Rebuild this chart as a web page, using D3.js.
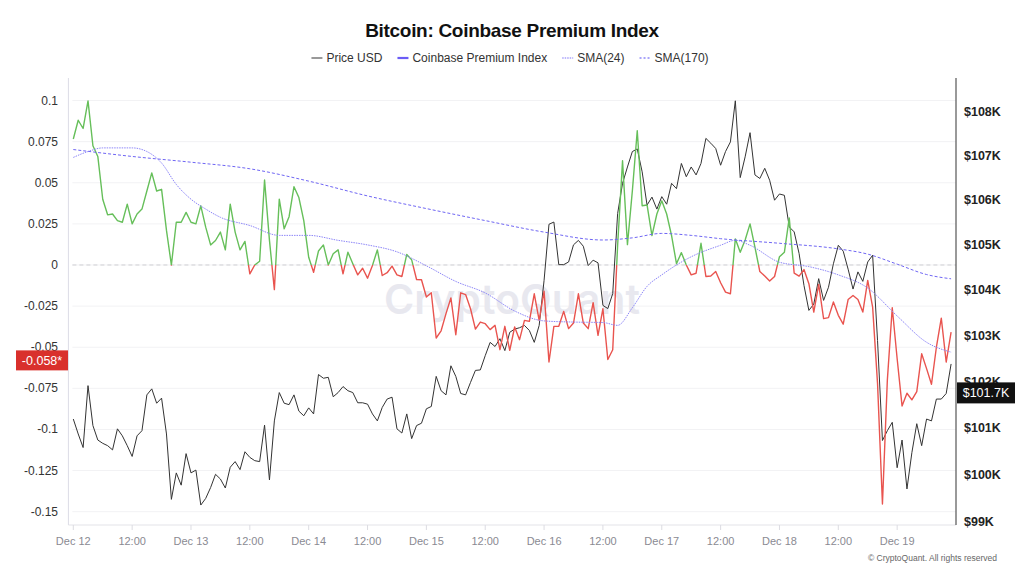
<!DOCTYPE html>
<html>
<head>
<meta charset="utf-8">
<script src="https://d3js.org/d3.v7.min.js"></script>
<style>
  html, body { margin: 0; padding: 0; background: #fff; }
  svg { display: block; font-family: "Liberation Sans", Arial, sans-serif; }
</style>
</head>
<body>
<svg id="chart" width="1024" height="576"></svg>
<script>
// hourly values from Dec 12 00:00 (UTC)
const premium = [
  0.0766, 0.088, 0.083, 0.0998, 0.0725, 0.066, 0.040, 0.0305, 0.031, 0.027,
  0.026, 0.037, 0.025, 0.031, 0.034, 0.045, 0.056, 0.045, 0.046, 0.021,
  0.0, 0.026, 0.026, 0.032, 0.026, 0.025, 0.036, 0.023, 0.0122, 0.0149,
  0.020, 0.0092, 0.037, 0.020, 0.0092, 0.0143, -0.0054, 0.0, 0.0023, 0.0517,
  0.015, -0.015, 0.040, 0.022, 0.0294, 0.0476, 0.041, 0.027, 0.0047, -0.0044,
  0.0085, 0.0122, 0.0, 0.0068, 0.0092, -0.0054, 0.0078, 0.0007, -0.006, -0.002,
  -0.008, -0.0003, 0.0092, -0.0064, -0.0047, -0.0007, -0.006, -0.007, 0.0064, 0.0031,
  -0.0088, -0.009, -0.0195, -0.0169, -0.0444, -0.040, -0.0296, -0.020, -0.0424, -0.0169,
  -0.018, -0.0266, -0.039, -0.0347, -0.0357, -0.0393, -0.0367, -0.0515, -0.0373, -0.0519,
  -0.0377, -0.0454, -0.0337, -0.0343, -0.0175, -0.0337, -0.0159, -0.059, -0.0373, -0.0373,
  -0.0282, -0.0387, -0.0353, -0.0175, -0.0353, -0.0387, -0.0229, -0.0428, -0.0266, -0.0575,
  -0.0515, 0.012, 0.0634, 0.0124, 0.045, 0.0816, 0.036, 0.0365, 0.0179, 0.031,
  0.039, 0.031, 0.0179, 0.0008, 0.0075, 0.0, -0.006, -0.005, 0.0132, -0.007,
  -0.0067, -0.004, -0.0108, -0.0165, -0.0175, 0.0159, 0.0077, 0.0152, 0.025, 0.0108,
  -0.004, -0.0067, -0.0098, -0.007, 0.005, 0.0077, 0.0286, -0.005, -0.0068, -0.0028,
  -0.0114, -0.0286, -0.0118, -0.0326, -0.032, -0.0225, -0.0306, -0.036, -0.021, -0.0186,
  -0.021, -0.0286, -0.0094, -0.0256, -0.072, -0.1453, -0.070, -0.026, -0.057, -0.0857,
  -0.078, -0.082, -0.077, -0.054, -0.063, -0.0725, -0.050, -0.0323, -0.059, -0.0408
];

// BTC price, thousands of USD
const priceK = [
  101.18, 100.86, 100.57, 101.90, 101.04, 100.73, 100.66, 100.61, 100.52, 100.97,
  100.82, 100.61, 100.38, 100.82, 100.93, 101.70, 101.83, 101.52, 101.63, 100.86,
  99.47, 100.03, 99.77, 100.44, 100.03, 100.09, 99.35, 99.49, 99.72, 100.00,
  99.90, 99.71, 100.15, 100.27, 100.10, 100.48, 100.36, 100.29, 100.27, 101.05,
  99.88, 101.14, 101.75, 101.52, 101.49, 101.70, 101.35, 101.25, 101.42, 101.29,
  102.14, 102.06, 102.08, 101.66, 101.75, 101.88, 101.79, 101.75, 101.53, 101.53,
  101.50, 101.29, 101.14, 101.43, 101.61, 101.65, 100.97, 100.88, 101.29, 100.76,
  101.04, 101.09, 101.40, 101.45, 102.10, 101.79, 101.70, 102.33, 102.10, 101.73,
  101.70, 101.97, 102.23, 102.24, 102.55, 102.84, 102.75, 102.92, 102.66, 103.06,
  103.13, 103.16, 103.21, 103.10, 102.84, 103.21, 104.20, 105.45, 105.50, 104.55,
  104.55, 104.61, 104.99, 105.09, 104.96, 104.53, 104.65, 104.59, 103.65, 103.58,
  103.91, 105.69, 106.37, 106.74, 107.09, 107.15, 106.63, 105.88, 106.06, 105.79,
  106.07, 105.90, 106.37, 106.25, 106.82, 106.52, 106.74, 106.56, 106.82, 107.39,
  107.28, 107.16, 106.78, 107.09, 107.31, 108.25, 106.50, 106.97, 107.52, 106.56,
  106.48, 106.71, 106.44, 105.99, 106.13, 106.10, 105.39, 105.28, 104.80, 104.09,
  103.54, 103.68, 104.24, 103.76, 104.05, 104.57, 104.98, 104.85, 104.45, 104.01,
  104.39, 104.18, 104.61, 104.76, 102.88, 100.72, 100.93, 101.11, 100.14, 100.73,
  99.69, 100.46, 101.08, 100.61, 101.18, 101.14, 101.61, 101.61, 101.73, 102.37
];

// moving averages, read at these hour offsets
const sma24Hours = [0, 3, 6, 12, 15, 18, 21, 24, 27, 30, 36, 42, 48, 54, 60, 66, 72, 78, 84, 90,
  96, 102, 108, 111, 114, 117, 120, 126, 132, 135, 138, 144, 150, 156, 162, 168, 174, 179];
const sma24 = [0.0654, 0.069, 0.0712, 0.0712, 0.069, 0.062, 0.049, 0.040, 0.034, 0.029,
  0.024, 0.018, 0.018, 0.015, 0.0122, 0.008, -0.0005, -0.010, -0.017, -0.028,
  -0.034, -0.0347, -0.035, -0.0367, -0.026, -0.013, -0.006, 0.005, 0.012, 0.015,
  0.012, 0.0017, -0.001, -0.006, -0.014, -0.031, -0.047, -0.053];

const sma170Hours = [0, 12, 24, 36, 48, 60, 72, 84, 96, 108, 114, 120, 126, 132, 144, 156, 162, 168, 174, 179];
const sma170 = [0.0702, 0.066, 0.0625, 0.0585, 0.051, 0.042, 0.0343, 0.027, 0.020, 0.0152,
  0.0165, 0.0192, 0.018, 0.016, 0.0132, 0.0098, 0.0066, 0.0005, -0.0058, -0.0084];

const leftTicks = [0.1, 0.075, 0.05, 0.025, 0, -0.025, -0.05, -0.075, -0.1, -0.125, -0.15];
const leftTickLabels = ['0.1', '0.075', '0.05', '0.025', '0', '-0.025', '-0.05', '-0.075', '-0.1', '-0.125', '-0.15'];
const rightTicks = [108, 107, 106, 105, 104, 103, 102, 101, 100, 99];
const legendItems = ['Price USD', 'Coinbase Premium Index', 'SMA(24)', 'SMA(170)'];
const lastPremiumTag = -0.058;
const lastPriceTag = 101.7;

const START = Date.UTC(2024, 11, 12, 0);
const HOUR = 3600 * 1000;
const t = h => new Date(START + h * HOUR);

const PLOT = { left: 68.4, right: 956, top: 78, bottom: 525 };
const GREEN = '#66bf5a';
const RED = '#e9544f';
const PRICE_COLOR = '#333333';

const svg = d3.select('#chart');

const x = d3.scaleUtc()
  .domain([new Date(Date.UTC(2024, 11, 11, 23)), new Date(Date.UTC(2024, 11, 19, 12))])
  .range([PLOT.left, PLOT.right]);

const yL = d3.scaleLinear()
  .domain([-0.1581, 0.1137])
  .range([PLOT.bottom, PLOT.top]);

const yR = d3.scaleLog()
  .domain([98.93, 108.775])
  .range([PLOT.bottom, PLOT.top]);

// title
svg.append('text')
  .attr('x', 512)
  .attr('y', 37)
  .attr('text-anchor', 'middle')
  .style('font-size', '19px')
  .style('font-weight', '700')
  .style('letter-spacing', '-0.3px')
  .style('fill', '#111')
  .text('Bitcoin: Coinbase Premium Index');

// legend
const legend = svg.append('g');
let lx = 0;
legendItems.forEach((name, i) => {
  const g = legend.append('g').attr('transform', `translate(${lx},0)`);
  const line = g.append('line')
    .attr('x1', 0).attr('x2', 11)
    .attr('y1', 0).attr('y2', 0);
  if (i === 0) line.attr('stroke', '#777').attr('stroke-width', 1.5);
  if (i === 1) line.attr('stroke', '#6b5cf6').attr('stroke-width', 2.2);
  if (i === 2) line.attr('stroke', '#a9a3fa').attr('stroke-width', 1.5).attr('stroke-dasharray', '1.5,1');
  if (i === 3) line.attr('stroke', '#8f88f8').attr('stroke-width', 1.5).attr('stroke-dasharray', '2,2');
  const txt = g.append('text')
    .attr('x', 15)
    .attr('y', 4)
    .style('font-size', '12px')
    .style('fill', '#333')
    .text(name);
  lx += 15 + txt.node().getComputedTextLength() + 15;
});
lx -= 15;
legend.attr('transform', `translate(${510 - lx / 2},58)`);

// grid lines
svg.append('g')
  .selectAll('line')
  .data(leftTicks)
  .join('line')
  .attr('x1', PLOT.left + 4)
  .attr('x2', PLOT.right)
  .attr('y1', d => yL(d))
  .attr('y2', d => yL(d))
  .attr('stroke', '#f2f2f4')
  .attr('stroke-width', 1);

// watermark
svg.append('text')
  .attr('x', 512)
  .attr('y', 314)
  .attr('text-anchor', 'middle')
  .style('font-size', '41px')
  .style('font-weight', '600')
  .style('fill', '#e8e8ef')
  .style('font-family', 'Inter, "Liberation Sans", sans-serif')
  .text('CryptoQuant');

// zero line
svg.append('line')
  .attr('x1', PLOT.left + 4)
  .attr('x2', PLOT.right)
  .attr('y1', yL(0))
  .attr('y2', yL(0))
  .attr('stroke', '#cfcfd4')
  .attr('stroke-width', 1)
  .attr('stroke-dasharray', '4,3');

// x axis
svg.append('line')
  .attr('x1', PLOT.left)
  .attr('x2', PLOT.right)
  .attr('y1', PLOT.bottom)
  .attr('y2', PLOT.bottom)
  .attr('stroke', '#e3e3e8');

const xTicks = d3.utcHour.every(12).range(t(0), t(169));
const fmtDay = d3.utcFormat('%b %d');
const xAxis = svg.append('g');
xAxis.selectAll('line')
  .data(xTicks)
  .join('line')
  .attr('x1', d => x(d)).attr('x2', d => x(d))
  .attr('y1', PLOT.bottom).attr('y2', PLOT.bottom + 5)
  .attr('stroke', '#dcdce2');
xAxis.selectAll('text')
  .data(xTicks)
  .join('text')
  .attr('x', d => x(d))
  .attr('y', 545)
  .attr('text-anchor', 'middle')
  .style('font-size', '11px')
  .style('fill', '#8a8a92')
  .text(d => d.getUTCHours() === 0 ? fmtDay(d) : '12:00');

// left axis
svg.append('line')
  .attr('x1', PLOT.left).attr('x2', PLOT.left)
  .attr('y1', PLOT.top).attr('y2', PLOT.bottom)
  .attr('stroke', '#dcdce6');

svg.append('g')
  .selectAll('text')
  .data(leftTicks)
  .join('text')
  .attr('x', 58)
  .attr('y', d => yL(d) + 4)
  .attr('text-anchor', 'end')
  .style('font-size', '12px')
  .style('fill', '#333')
  .text((d, i) => leftTickLabels[i]);

// right axis
svg.append('line')
  .attr('x1', PLOT.right).attr('x2', PLOT.right)
  .attr('y1', PLOT.top).attr('y2', PLOT.bottom)
  .attr('stroke', '#555')
  .attr('stroke-width', 1.2);

svg.append('g')
  .selectAll('text')
  .data(rightTicks)
  .join('text')
  .attr('x', 964)
  .attr('y', d => yR(d) + 4.5)
  .style('font-size', '12.5px')
  .style('font-weight', '600')
  .style('fill', '#222')
  .text(d => `$${d}K`);

// series
const priceLine = d3.line()
  .x((d, i) => x(t(i)))
  .y(d => yR(d));

const premLine = d3.line()
  .x((d, i) => x(t(i)))
  .y(d => yL(d));

svg.append('path')
  .datum(priceK)
  .attr('fill', 'none')
  .attr('stroke', PRICE_COLOR)
  .attr('stroke-width', 1)
  .attr('stroke-linejoin', 'round')
  .attr('d', priceLine);

const defs = svg.append('defs');
defs.append('clipPath').attr('id', 'clip-above')
  .append('rect')
  .attr('x', PLOT.left).attr('y', 0)
  .attr('width', PLOT.right - PLOT.left)
  .attr('height', yL(0));
defs.append('clipPath').attr('id', 'clip-below')
  .append('rect')
  .attr('x', PLOT.left).attr('y', yL(0))
  .attr('width', PLOT.right - PLOT.left)
  .attr('height', PLOT.bottom - yL(0));

[['clip-above', GREEN], ['clip-below', RED]].forEach(([clip, color]) => {
  svg.append('path')
    .datum(premium)
    .attr('clip-path', `url(#${clip})`)
    .attr('fill', 'none')
    .attr('stroke', color)
    .attr('stroke-width', 1.4)
    .attr('stroke-linejoin', 'round')
    .attr('d', premLine);
});

const smaLine = hours => d3.line()
  .curve(d3.curveMonotoneX)
  .x((d, i) => x(t(hours[i])))
  .y(d => yL(d));

svg.append('path')
  .datum(sma24)
  .attr('fill', 'none')
  .attr('stroke', '#8d86f8')
  .attr('stroke-width', 1)
  .attr('stroke-dasharray', '1.5,1')
  .attr('d', smaLine(sma24Hours));

svg.append('path')
  .datum(sma170)
  .attr('fill', 'none')
  .attr('stroke', '#6f66f4')
  .attr('stroke-width', 1)
  .attr('stroke-dasharray', '3,2')
  .attr('d', smaLine(sma170Hours));

// last value tags
const leftTag = svg.append('g').attr('transform', `translate(16,${yL(lastPremiumTag)})`);
leftTag.append('rect')
  .attr('x', 0).attr('y', -10)
  .attr('width', 52).attr('height', 20)
  .attr('fill', '#d9302c');
leftTag.append('text')
  .attr('x', 26).attr('y', 4.5)
  .attr('text-anchor', 'middle')
  .style('font-size', '12.5px')
  .style('fill', '#fff')
  .text(`${lastPremiumTag}*`);

const rightTag = svg.append('g').attr('transform', `translate(957,${yR(lastPriceTag) - 2})`);
rightTag.append('rect')
  .attr('x', 0).attr('y', -10.5)
  .attr('width', 58).attr('height', 21)
  .attr('fill', '#111');
rightTag.append('text')
  .attr('x', 29).attr('y', 4.5)
  .attr('text-anchor', 'middle')
  .style('font-size', '12.5px')
  .style('fill', '#fff')
  .text(`$${lastPriceTag}K`);

// copyright
svg.append('text')
  .attr('x', 997)
  .attr('y', 561)
  .attr('text-anchor', 'end')
  .style('font-size', '8.5px')
  .style('fill', '#666')
  .text('© CryptoQuant. All rights reserved');
</script>
</body>
</html>
